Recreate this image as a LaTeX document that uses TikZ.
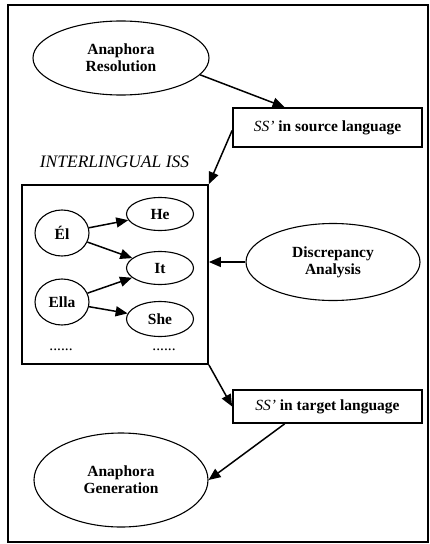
\documentclass[tikz,border=0pt]{standalone}
\usepackage{fontspec}
\setmainfont{Liberation Serif}
\usetikzlibrary{shapes.geometric,arrows.meta,calc}
\tikzset{
  lbl/.style={font=\fontsize{15.5}{17}\selectfont\bfseries, align=center},
  oval/.style={lbl, draw, ellipse, line width=1.1pt, inner sep=0pt},
  rbox/.style={lbl, draw, rectangle, line width=1.8pt, inner sep=0pt, minimum width=189pt},
  arr/.style={line width=1.5pt, -{Triangle[length=12pt,width=10pt]}},
  smallarr/.style={line width=1.5pt, -{Triangle[length=12pt,width=10pt]}},
  dots/.style={font=\fontsize{15.5}{17}\selectfont, anchor=base}
}
\begin{document}
\begin{tikzpicture}[x=1pt,y=-1pt]
\useasboundingbox (0,0) rectangle (430,544);
\fill[white] (0,0) rectangle (430,544);
\draw[line width=1.4pt] (8,5) rectangle (428,542);

\node[oval, minimum width=176pt, minimum height=74pt] (res) at (121,58) {Anaphora\\Resolution};
\node[rbox, minimum height=39pt] (src) at (327.5,127.5) {\textmd{\textit{SS'}} in source language};

\node[font=\fontsize{17.5}{19}\selectfont\itshape, anchor=base] (isslbl) at (114.5,167) {INTERLINGUAL ISS};
\node[draw, line width=1.8pt, minimum width=186pt, minimum height=179pt, inner sep=0pt] (iss) at (115,274.5) {};

\node[oval, minimum width=54pt, minimum height=46pt] (el) at (62,233) {Él};
\node[oval, minimum width=54pt, minimum height=46pt] (ella) at (62,302) {Ella};
\node[oval, minimum width=67pt, minimum height=33pt] (he) at (160,214) {He};
\node[oval, minimum width=67pt, minimum height=33pt] (it) at (160,268) {It};
\node[oval, minimum width=67pt, minimum height=35pt] (she) at (160,319) {She};
\node[dots] (d1) at (61,350) {......};
\node[dots] (d2) at (164,350) {......};

\node[oval, minimum width=174pt, minimum height=77pt] (disc) at (333,262) {Discrepancy\\Analysis};
\node[rbox, minimum height=33pt] (tgt) at (327.5,406.5) {\textmd{\textit{SS'}} in target language};
\node[oval, minimum width=174pt, minimum height=94pt] (gen) at (121,480) {Anaphora\\Generation};

\draw[arr] (res.-12) -- ($(src.north west)!0.275!(src.north east)$);
\draw[arr] (src.west) ++(0,3) -- (iss.north east);
\draw[arr] (disc.west) -- (disc.west -| iss.east);
\draw[arr] (iss.south east) -- (tgt.west);
\draw[arr] ($(tgt.south west)!0.275!(tgt.south east)$) -- (gen.east);

\draw[smallarr] (el) -- (he);
\draw[smallarr] (el) -- (it);
\draw[smallarr] (ella) -- (it);
\draw[smallarr] (ella) -- (she);
\end{tikzpicture}
\end{document}
